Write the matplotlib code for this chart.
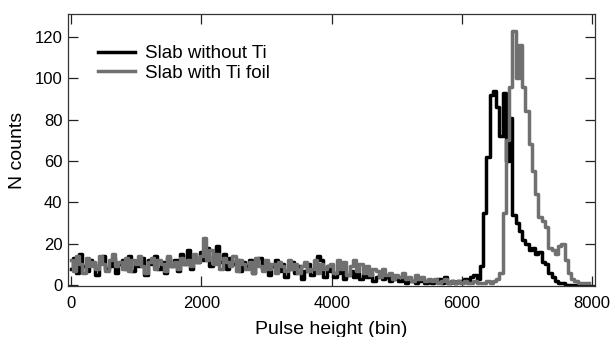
import matplotlib
matplotlib.use("Agg")
import matplotlib.pyplot as plt
import numpy as np

plt.rcParams["font.family"] = ["Liberation Sans", "DejaVu Sans"]

# Bin width 50, bins start at 0 and run to 8000
bin_width = 50

# Slab without Ti
counts_no_ti = [
    # 0 - 2000
    8, 13, 6, 15, 9, 7, 12, 10, 5, 11, 14, 8, 9, 13, 6, 10, 12, 8, 14, 7,
    11, 9, 13, 5, 12, 10, 14, 8, 11, 6, 13, 9, 12, 7, 15, 10, 17, 8, 14, 11,
    # 2000 - 4000
    16, 12, 18, 9, 14, 19, 11, 15, 8, 13, 10, 12, 7, 11, 9, 12, 6, 10, 13, 8,
    11, 5, 9, 12, 7, 10, 4, 8, 11, 6, 9, 3, 7, 10, 5, 8, 14, 12, 4, 9,
    # 4000 - 6000
    7, 4, 6, 8, 3, 5, 7, 4, 6, 3, 5, 4, 6, 2, 4, 5, 3, 4, 2, 3,
    4, 2, 3, 1, 3, 2, 1, 2, 3, 1, 2, 1, 2, 3, 1, 4, 1, 2, 1, 2,
    # 6000 - 8000
    2, 3, 2, 4, 5, 3, 9, 35, 62, 92, 94, 86, 72, 93, 60, 81, 34, 30, 26, 22,
    20, 17, 18, 15, 16, 11, 10, 6, 4, 2, 1, 1, 0, 0, 0, 0, 0, 0, 0, 0,
]

# Slab with Ti foil
counts_ti_foil = [
    # 0 - 2000
    12, 7, 14, 10, 6, 13, 9, 11, 8, 14, 10, 7, 12, 15, 9, 11, 8, 13, 7, 12,
    10, 14, 9, 6, 11, 13, 8, 12, 10, 7, 14, 9, 11, 8, 13, 10, 12, 9, 15, 11,
    # 2000 - 4000
    14, 23, 12, 17, 10, 15, 8, 13, 11, 9, 14, 7, 12, 10, 8, 11, 6, 13, 9, 7,
    12, 8, 10, 6, 11, 9, 7, 12, 8, 10, 6, 9, 11, 7, 8, 12, 6, 10, 8, 9,
    # 4000 - 6000
    10, 6, 12, 8, 11, 5, 9, 12, 7, 10, 6, 9, 5, 8, 7, 4, 8, 5, 6, 3,
    5, 4, 6, 3, 4, 2, 5, 3, 4, 2, 3, 2, 3, 1, 2, 3, 1, 2, 1, 2,
    # 6000 - 8000
    1, 2, 1, 1, 2, 1, 1, 1, 2, 1, 2, 3, 6, 35, 70, 96, 123, 100, 116, 96,
    84, 68, 55, 44, 33, 31, 28, 18, 17, 15, 19, 20, 12, 6, 3, 2, 1, 1, 1, 1,
]

x_ticks = [0, 2000, 4000, 6000, 8000]
y_ticks = [0, 20, 40, 60, 80, 100, 120]

bins = np.arange(len(counts_no_ti)) * bin_width

fig = plt.figure(figsize=(6.13, 3.37), dpi=100)
ax = fig.add_axes([0.111, 0.151, 0.860, 0.807])

ax.plot(bins, counts_no_ti, drawstyle="steps-mid", color="black",
        linewidth=2.5, label="Slab without Ti")
ax.plot(bins, counts_ti_foil, drawstyle="steps-mid", color="#707070",
        linewidth=2.5, label="Slab with Ti foil")

ax.set_xlim(-46, 8046)
ax.set_ylim(-0.5, 131)
ax.set_xticks(x_ticks)
ax.set_yticks(y_ticks)

ax.tick_params(direction="in", length=7, width=0.9, top=True, right=True,
               labelsize=12, pad=4, colors="#222222", labelcolor="black")
ax.tick_params(axis="x", pad=7)
for spine in ax.spines.values():
    spine.set_linewidth(0.9)
    spine.set_color("#333333")

ax.set_xlabel("Pulse height (bin)", fontsize=14, labelpad=7)
ax.set_ylabel("N counts", fontsize=14, labelpad=6)

ax.legend(loc="upper left", frameon=False, fontsize=13.5, handlelength=2.0,
          handletextpad=0.5, labelspacing=0.15, borderaxespad=0.2,
          bbox_to_anchor=(0.035, 0.928))

fig.savefig("out.png", dpi=100)
plt.close(fig)
